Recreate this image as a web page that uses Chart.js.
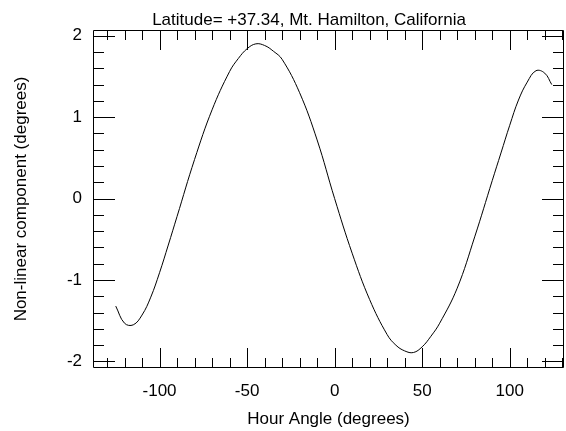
<!DOCTYPE html>
<html>
<head>
<meta charset="utf-8">
<script src="https://cdn.jsdelivr.net/npm/chart.js@4/dist/chart.umd.min.js"></script>
<style>
  body { margin: 0; background: #fff; }
  canvas { display: block; }
</style>
</head>
<body>
<canvas id="chart" width="566" height="431"></canvas>
<script>
// values
const hourAngle = [-125, -120, -115, -110, -105, -100, -95, -90, -80, -70, -60, -55, -50, -45, -40, -35, -30, -20, -10,
    0, 10, 20, 30, 35, 40, 45, 50, 55, 60, 70, 80, 90, 95, 100, 105, 110, 115, 120, 124];
const nonLinear = [-1.32, -1.53, -1.55, -1.43, -1.21, -0.91, -0.57, -0.22, 0.48, 1.09, 1.56, 1.72, 1.84, 1.90, 1.88, 1.81, 1.71, 1.30, 0.72,
    0.0, -0.67, -1.24, -1.67, -1.80, -1.87, -1.89, -1.82, -1.69, -1.53, -1.10, -0.47, 0.22, 0.56, 0.90, 1.21, 1.43, 1.57, 1.54, 1.40];

const xTickLabels = [-100, -50, 0, 50, 100];
const yTickLabels = [-2, -1, 0, 1, 2];

const titleText = "Latitude= +37.34, Mt. Hamilton, California";
const xTitle = "Hour Angle (degrees)";
const yTitle = "Non-linear component (degrees)";

const FONT = "'Liberation Sans', Arial, sans-serif";

// IDL style frame with inward ticks on all four sides
const idlFrame = {
    id: "idlFrame",
    afterDraw(chart) {
        const ctx = chart.ctx;
        const a = chart.chartArea;
        const xs = chart.scales.x;
        const ys = chart.scales.y;
        ctx.save();
        ctx.strokeStyle = "#000";
        ctx.lineWidth = 1;
        ctx.beginPath();
        ctx.rect(a.left + 0.5, a.top + 0.5, a.right - a.left - 1, a.bottom - a.top - 1);
        for (let v = -130; v <= 130; v += 10) {
            const px = Math.round(xs.getPixelForValue(v)) + 0.5;
            const len = v % 50 === 0 ? 20 : 10;
            ctx.moveTo(px, a.bottom);
            ctx.lineTo(px, a.bottom - len);
            ctx.moveTo(px, a.top);
            ctx.lineTo(px, a.top + len);
        }
        for (let i = -10; i <= 10; i++) {
            const v = i / 5;
            const py = Math.round(ys.getPixelForValue(v)) + 0.5;
            const len = i % 5 === 0 ? 22 : 11;
            ctx.moveTo(a.left, py);
            ctx.lineTo(a.left + len, py);
            ctx.moveTo(a.right, py);
            ctx.lineTo(a.right - len, py);
        }
        ctx.stroke();

        ctx.fillStyle = "#000";
        ctx.font = "17px " + FONT;
        ctx.textAlign = "center";
        ctx.textBaseline = "alphabetic";
        ctx.fillText(titleText, 309, 25);
        ctx.fillText(xTitle, (a.left + a.right) / 2, 424);
        ctx.translate(26, (a.top + a.bottom) / 2);
        ctx.rotate(-Math.PI / 2);
        ctx.fillText(yTitle, 0, 0);
        ctx.restore();
    }
};

new Chart(document.getElementById("chart"), {
    type: "line",
    data: {
        labels: hourAngle,
        datasets: [{
            data: hourAngle.map((x, i) => ({ x: x, y: nonLinear[i] })),
            borderColor: "#000",
            borderWidth: 1,
            pointRadius: 0,
            tension: 0.4,
            fill: false
        }]
    },
    options: {
        responsive: false,
        animation: false,
        devicePixelRatio: 1,
        layout: { padding: { top: 30, right: 2, left: 0, bottom: 0 } },
        plugins: { legend: { display: false }, tooltip: { enabled: false }, title: { display: false } },
        scales: {
            x: {
                type: "linear",
                min: -138,
                max: 131,
                grid: { display: false, drawTicks: false },
                border: { display: false },
                afterBuildTicks: s => { s.ticks = xTickLabels.map(v => ({ value: v })); },
                afterFit: s => { s.height = 63; },
                ticks: {
                    color: "#000",
                    padding: 13,
                    maxRotation: 0,
                    autoSkip: false,
                    font: { family: FONT, size: 17 },
                    callback: v => String(v)
                }
            },
            y: {
                type: "linear",
                min: -2.08,
                max: 2.07,
                grid: { display: false, drawTicks: false },
                border: { display: false },
                afterBuildTicks: s => { s.ticks = yTickLabels.map(v => ({ value: v })); },
                afterFit: s => { s.width = 93; },
                ticks: {
                    color: "#000",
                    padding: 11,
                    autoSkip: false,
                    font: { family: FONT, size: 17 },
                    callback: v => String(v)
                }
            }
        }
    },
    plugins: [idlFrame]
});
</script>
</body>
</html>
